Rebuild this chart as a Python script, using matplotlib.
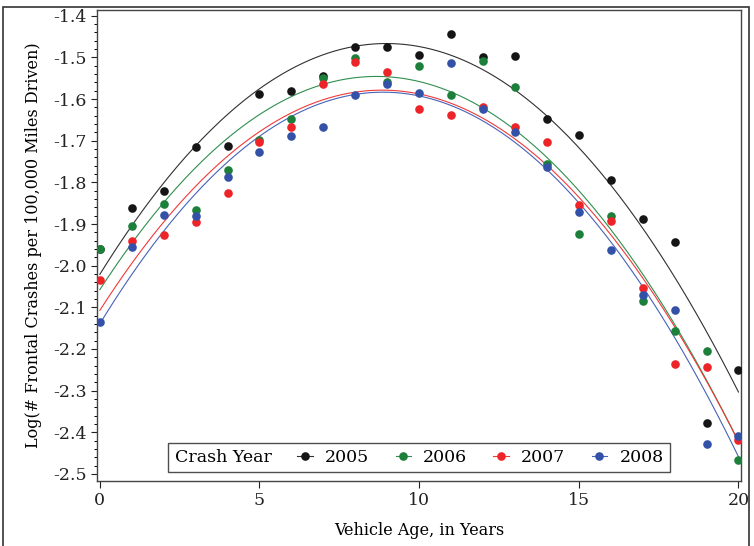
import numpy as np
import matplotlib.pyplot as plt
from matplotlib.lines import Line2D
from matplotlib.patches import Rectangle
from matplotlib.ticker import MultipleLocator

plt.rcParams['font.family'] = ['DejaVu Serif']

# Vehicle age and log crash rates per crash year
age = list(range(21))
y2005 = [-1.960, -1.861, -1.820, -1.714, -1.712, -1.589, -1.580, -1.545, -1.474, -1.474, -1.494,
         -1.444, -1.500, -1.497, -1.649, -1.686, -1.794, -1.887, -1.944, -2.377, -2.250]
y2006 = [-1.960, -1.904, -1.853, -1.866, -1.770, -1.698, -1.648, -1.549, -1.502, -1.558, -1.520,
         -1.590, -1.509, -1.570, -1.756, -1.924, -1.881, -2.085, -2.157, -2.204, -2.466]
y2007 = [-2.034, -1.940, -1.926, -1.894, -1.825, -1.703, -1.668, -1.565, -1.512, -1.535, -1.625,
         -1.638, -1.620, -1.666, -1.703, -1.854, -1.893, -2.053, -2.237, -2.244, -2.418]
y2008 = [-2.136, -1.954, -1.878, -1.880, -1.786, -1.726, -1.689, -1.668, -1.590, -1.564, -1.585,
         -1.513, -1.624, -1.678, -1.764, -1.872, -1.962, -2.070, -2.107, -2.427, -2.410]

years = ['2005', '2006', '2007', '2008']
series = [y2005, y2006, y2007, y2008]
dot_colors = ['#151515', '#1c7f3a', '#ee2528', '#3451a8']
line_colors = ['#303030', '#2f8f4e', '#f03a3a', '#4663b8']

fig = plt.figure(figsize=(7.54, 5.46), dpi=100)
ax = fig.add_axes([0.1286, 0.119, 0.8542, 0.8636])

xs = np.linspace(0, 20, 300)
for yv, dc, lc in zip(series, dot_colors, line_colors):
    # quadratic trend per crash year
    coef = np.polyfit(age, yv, 2)
    ax.plot(xs, np.polyval(coef, xs), color=lc, lw=0.8, zorder=2)
for yv, dc in zip(series, dot_colors):
    ax.plot(age, yv, 'o', color=dc, ms=6.2, mec='none', zorder=3)

ax.set_xlim(-0.09, 20.08)
ax.set_ylim(-2.517, -1.385)
ax.set_xticks([0, 5, 10, 15, 20])
ax.set_yticks(np.arange(-2.5, -1.35, 0.1))
ax.set_yticklabels(['%.1f' % v for v in np.arange(-2.5, -1.35, 0.1)])
ax.yaxis.set_minor_locator(MultipleLocator(0.02))
ax.tick_params(axis='both', labelsize=12.5, direction='out', width=0.8, colors='#222222')
ax.tick_params(axis='y', which='major', length=4)
ax.tick_params(axis='y', which='minor', length=2.5, width=0.7)
ax.tick_params(axis='x', which='major', length=5, pad=3)
for s in ax.spines.values():
    s.set_color('#444444')
    s.set_linewidth(1.0)

ax.set_xlabel('Vehicle Age, in Years', fontsize=11.5, labelpad=9)
ax.set_ylabel('Log(# Frontal Crashes per 100,000 Miles Driven)', fontsize=11.5, labelpad=8)

handles = [Line2D([], [], color=lc, lw=0.8, marker='o', ms=6.2, mfc=dc, mec='none')
           for dc, lc in zip(dot_colors, line_colors)]
leg = ax.legend(handles, years, title='Crash Year', ncol=4, loc='lower center',
                bbox_to_anchor=(0.5, 0.012), fontsize=12.5, title_fontsize=12.5,
                frameon=True, fancybox=False, handlelength=0.9, handletextpad=0.7,
                columnspacing=1.5, borderpad=0.35, borderaxespad=0.2)
leg.get_frame().set_edgecolor('#222222')
leg.get_frame().set_linewidth(1.0)
# put the title inline, left of the entries
box = leg.get_children()[0]
title_box, entries = box.get_children()
box._children = [entries]
entries._children = [title_box] + entries.get_children()

# thin frame around the whole picture
fig.patches.append(Rectangle((0.004, -0.01), 0.99, 0.997, transform=fig.transFigure,
                             fill=False, edgecolor='#333333', lw=1.2))

fig.savefig('out.png', dpi=100)
